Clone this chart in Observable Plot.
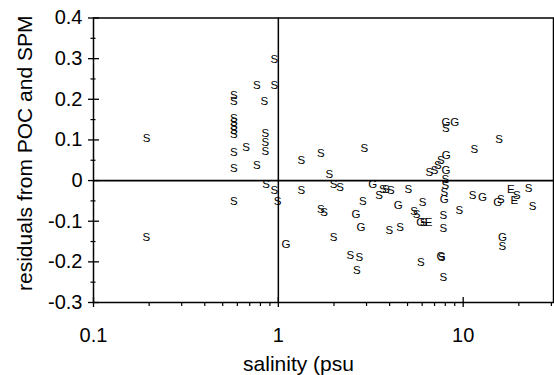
<!DOCTYPE html>
<html>
<head>
<meta charset="utf-8">
<script src="https://cdn.jsdelivr.net/npm/d3@7"></script>
<script src="https://cdn.jsdelivr.net/npm/@observablehq/plot@0.6"></script>
<style>
  html, body { margin: 0; padding: 0; background: #fff; }
  #chart svg { display: block; }
</style>
</head>
<body>
<div id="chart"></div>
<script>
// salinity (psu), residual, station label
const salinity = [
  0.194, 0.193,
  0.574, 0.574, 0.574, 0.574, 0.574, 0.574, 0.574, 0.574, 0.574, 0.574,
  0.669, 0.764, 0.764, 0.84, 0.85, 0.85, 0.85, 0.858,
  0.95, 0.95, 0.95, 0.99, 1.10, 1.33, 1.33,
  1.70, 2.92, 1.89, 1.99, 2.16, 3.24, 3.67, 3.82, 4.06, 3.51, 2.86, 5.05, 4.45,
  1.70, 1.77, 2.63, 6.03, 5.43, 5.6, 5.9, 6.1, 6.5, 7.8, 7.8,
  2.80, 3.98, 4.56, 1.99, 2.45, 2.74, 2.66, 5.9, 7.57, 7.65, 7.8,
  8.06, 9.0, 8.06, 8.1, 6.55, 7.0, 7.3, 7.57, 8.06, 8.0, 8.0, 7.9, 7.9,
  11.47, 15.65, 11.23, 12.7, 15.35, 16.0, 18.1, 18.9, 19.5, 22.6, 23.7,
  9.52, 16.3, 16.3
];
const residual = [
  0.105, -0.139,
  0.210, 0.195, 0.153, 0.144, 0.134, 0.124, 0.114, 0.070, 0.029, -0.050,
  0.083, 0.235, 0.037, 0.194, 0.116, 0.095, 0.072, -0.008,
  0.299, 0.235, -0.023, -0.050, -0.157, 0.050, -0.023,
  0.068, 0.080, 0.015, -0.008, -0.016, -0.010, -0.022, -0.022, -0.025, -0.037, -0.050, -0.021, -0.060,
  -0.070, -0.078, -0.083, -0.054, -0.076, -0.083, -0.103, -0.103, -0.103, -0.085, -0.118,
  -0.116, -0.122, -0.116, -0.139, -0.183, -0.188, -0.221, -0.202, -0.186, -0.188, -0.239,
  0.144, 0.144, 0.128, 0.062, 0.021, 0.026, 0.037, 0.050, 0.025, 0.004, -0.012, -0.029, -0.045,
  0.078, 0.101, -0.037, -0.041, -0.054, -0.045, -0.021, -0.048, -0.037, -0.019, -0.064,
  -0.074, -0.139, -0.161
];
const label = [
  "S", "S",
  "S", "S", "S", "S", "S", "S", "S", "S", "S", "S",
  "S", "S", "S", "S", "S", "S", "S", "S",
  "S", "S", "S", "S", "G", "S", "S",
  "S", "S", "S", "S", "S", "G", "S", "S", "S", "S", "S", "S", "G",
  "S", "S", "G", "S", "S", "S", "G", "S", "E", "S", "S",
  "G", "S", "S", "S", "S", "S", "S", "S", "G", "S", "S",
  "G", "G", "S", "G", "S", "S", "S", "S", "G", "S", "S", "S", "G",
  "S", "S", "S", "G", "G", "S", "E", "E", "S", "S", "S",
  "S", "G", "S"
];

const yTicks = [-0.3, -0.2, -0.1, 0, 0.1, 0.2, 0.3, 0.4];
const yMinorTicks = [-0.25, -0.15, -0.05, 0.05, 0.15, 0.25, 0.35];
const xTicks = [0.1, 1, 10];
const xMinorTicks = [0.2, 0.3, 0.4, 0.5, 0.6, 0.7, 0.8, 0.9, 2, 3, 4, 5, 6, 7, 8, 9, 20, 30];
const xLabel = "salinity (psu";
const yLabel = "residuals from POC and SPM";

const data = salinity.map((s, i) => ({salinity: s, residual: residual[i], label: label[i]}));

const font = "'Liberation Sans', Arial, Helvetica, sans-serif";
const plotW = 553 - 93;
const plotH = 302 - 17.5;

const chart = Plot.plot({
  width: 554,
  height: 375,
  marginLeft: 93,
  marginRight: 1,
  marginTop: 17.5,
  marginBottom: 73,
  style: {fontFamily: font, background: "#fff", color: "#000"},
  x: {type: "log", domain: [0.1, 30.8]},
  y: {domain: [-0.3, 0.4]},
  marks: [
    Plot.axisY(yTicks, {
      tickSize: 0, tickPadding: 11, fontSize: 20,
      tickFormat: d => Math.abs(d) < 1e-9 ? "0" : d.toFixed(1),
      label: null
    }),
    Plot.axisX(xTicks, {
      tickSize: 0, tickPadding: 25, fontSize: 20,
      tickFormat: d => String(d),
      label: null
    }),
    // major y ticks crossing the axis
    Plot.tickY(yTicks, {y: d => d, insetRight: plotW - 11, dx: -5, stroke: "#000", strokeWidth: 1.3}),
    // minor y ticks
    Plot.tickY(yMinorTicks, {y: d => d, insetRight: plotW - 5, dx: -2.5, stroke: "#000", strokeWidth: 1.2}),
    // major x ticks crossing the axis
    Plot.tickX(xTicks, {x: d => d, insetTop: plotH - 10, dy: 5, stroke: "#000", strokeWidth: 1.3}),
    // minor x ticks
    Plot.tickX(xMinorTicks, {x: d => d, insetTop: plotH - 3, dy: 4, stroke: "#000", strokeWidth: 1.2}),
    Plot.ruleX([1], {stroke: "#000", strokeWidth: 1.5}),
    Plot.ruleY([0], {stroke: "#000", strokeWidth: 1.8}),
    Plot.frame({stroke: "#000", strokeWidth: 1.5}),
    Plot.text(data, {
      x: "salinity", y: "residual", text: "label",
      fontSize: 11.5, fill: "#000", fontFamily: font
    }),
    Plot.text([yLabel], {
      frameAnchor: "left", textAnchor: "middle", lineAnchor: "middle",
      dx: -68, dy: -7, rotate: -90,
      fontSize: 21, fill: "#000", fontFamily: font
    }),
    Plot.text([xLabel], {
      frameAnchor: "bottom", textAnchor: "middle", lineAnchor: "middle",
      dx: -25, dy: 62,
      fontSize: 21, fill: "#000", fontFamily: font
    })
  ]
});

document.getElementById("chart").appendChild(chart);
</script>
</body>
</html>
